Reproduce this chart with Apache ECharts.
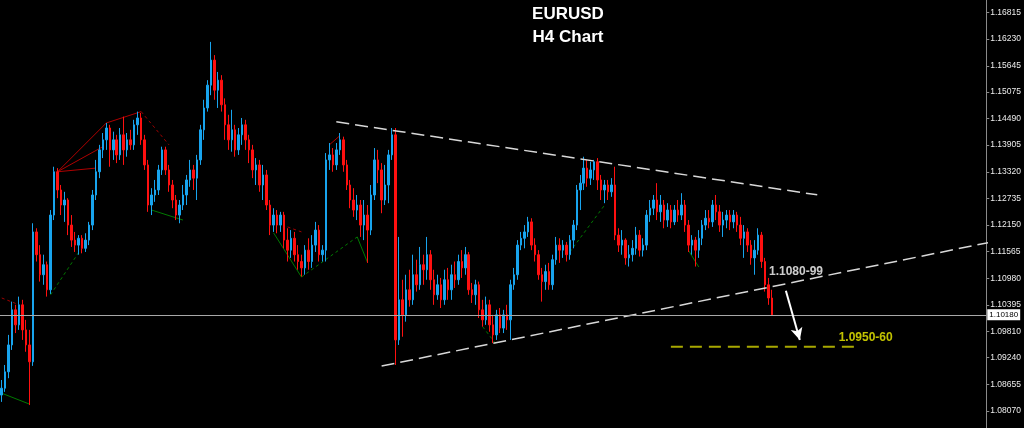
<!DOCTYPE html>
<html>
<head>
<meta charset="utf-8">
<script src="https://cdn.jsdelivr.net/npm/echarts@6/dist/echarts.min.js"></script>
<style>
html,body{margin:0;padding:0;background:#000;}
#chart{width:1024px;height:428px;}
</style>
</head>
<body>
<div id="chart"></div>
<script>
// ---- data ----
const slotCount = 283; // H4 bar slots across the plot (last bars empty: chart shift)
const categories = Array.from({length: slotCount}, (_, i) => 'bar' + i);

// [open, close, low, high]
const ohlc = [
[1.0842,1.0857,1.0827,1.0875],[1.0857,1.0893,1.0849,1.0908],[1.0893,1.0952,1.0879,1.0974],[1.0952,1.1029,1.0941,1.1047],
[1.1029,1.0996,1.0978,1.1040],[1.0996,1.1040,1.0985,1.1058],[1.1040,1.0985,1.0963,1.1051],[1.0985,1.0952,1.0937,1.1007],
[1.0952,1.0915,1.0820,1.0985],[1.0915,1.1200,1.0906,1.1219],[1.1200,1.1150,1.1135,1.1208],[1.1150,1.1106,1.1091,1.1171],
[1.1106,1.1128,1.1084,1.1150],[1.1128,1.1073,1.1058,1.1135],[1.1073,1.1237,1.1064,1.1248],[1.1237,1.1332,1.1226,1.1343],
[1.1332,1.1292,1.1274,1.1340],[1.1292,1.1259,1.1237,1.1303],[1.1259,1.1270,1.1222,1.1288],[1.1270,1.1215,1.1193,1.1274],
[1.1215,1.1182,1.1167,1.1237],[1.1182,1.1171,1.1156,1.1200],[1.1171,1.1186,1.1150,1.1193],[1.1186,1.1164,1.1153,1.1193],
[1.1164,1.1182,1.1156,1.1197],[1.1182,1.1215,1.1171,1.1222],[1.1215,1.1281,1.1204,1.1292],[1.1281,1.1332,1.1270,1.1358],
[1.1332,1.1380,1.1318,1.1391],[1.1380,1.1402,1.1362,1.1417],[1.1402,1.1428,1.1380,1.1439],[1.1428,1.1380,1.1343,1.1435],
[1.1380,1.1402,1.1358,1.1420],[1.1402,1.1369,1.1351,1.1413],[1.1369,1.1413,1.1358,1.1428],[1.1413,1.1380,1.1347,1.1453],
[1.1380,1.1402,1.1365,1.1417],[1.1402,1.1391,1.1380,1.1424],[1.1391,1.1435,1.1380,1.1446],[1.1435,1.1450,1.1413,1.1464],
[1.1450,1.1402,1.1391,1.1461],[1.1402,1.1347,1.1336,1.1413],[1.1347,1.1259,1.1244,1.1358],[1.1259,1.1281,1.1237,1.1296],
[1.1281,1.1292,1.1266,1.1314],[1.1292,1.1336,1.1281,1.1347],[1.1336,1.1380,1.1325,1.1387],[1.1380,1.1336,1.1325,1.1387],
[1.1336,1.1303,1.1288,1.1347],[1.1303,1.1270,1.1252,1.1314],[1.1270,1.1237,1.1226,1.1281],[1.1237,1.1259,1.1219,1.1270],
[1.1259,1.1281,1.1248,1.1303],[1.1281,1.1314,1.1259,1.1325],[1.1314,1.1336,1.1299,1.1358],[1.1336,1.1318,1.1292,1.1347],
[1.1318,1.1358,1.1270,1.1369],[1.1358,1.1424,1.1347,1.1435],[1.1424,1.1472,1.1402,1.1490],[1.1472,1.1522,1.1464,1.1533],
[1.1522,1.1577,1.1500,1.1617],[1.1577,1.1511,1.1490,1.1588],[1.1511,1.1533,1.1472,1.1551],[1.1533,1.1479,1.1464,1.1544],
[1.1479,1.1435,1.1402,1.1493],[1.1435,1.1402,1.1380,1.1457],[1.1402,1.1424,1.1376,1.1468],[1.1424,1.1380,1.1365,1.1435],
[1.1380,1.1413,1.1369,1.1428],[1.1413,1.1435,1.1391,1.1450],[1.1435,1.1402,1.1380,1.1446],[1.1402,1.1380,1.1351,1.1413],
[1.1380,1.1336,1.1318,1.1391],[1.1336,1.1347,1.1303,1.1362],[1.1347,1.1303,1.1288,1.1358],[1.1303,1.1325,1.1270,1.1347],
[1.1325,1.1259,1.1248,1.1336],[1.1259,1.1215,1.1193,1.1270],[1.1215,1.1237,1.1200,1.1252],[1.1237,1.1215,1.1197,1.1248],
[1.1215,1.1237,1.1200,1.1244],[1.1237,1.1182,1.1164,1.1244],[1.1182,1.1160,1.1135,1.1208],[1.1160,1.1186,1.1143,1.1204],
[1.1186,1.1150,1.1135,1.1200],[1.1150,1.1135,1.1117,1.1171],[1.1135,1.1121,1.1102,1.1150],[1.1121,1.1160,1.1106,1.1171],
[1.1160,1.1135,1.1117,1.1186],[1.1135,1.1171,1.1121,1.1193],[1.1171,1.1204,1.1156,1.1222],[1.1204,1.1150,1.1135,1.1215],
[1.1150,1.1160,1.1135,1.1171],[1.1160,1.1358,1.1135,1.1373],[1.1358,1.1369,1.1336,1.1395],[1.1369,1.1347,1.1332,1.1384],
[1.1347,1.1380,1.1336,1.1395],[1.1380,1.1402,1.1369,1.1417],[1.1402,1.1347,1.1332,1.1409],[1.1347,1.1303,1.1292,1.1358],
[1.1303,1.1270,1.1252,1.1314],[1.1270,1.1248,1.1233,1.1296],[1.1248,1.1259,1.1226,1.1281],[1.1259,1.1215,1.1189,1.1270],
[1.1215,1.1237,1.1182,1.1270],[1.1237,1.1204,1.1132,1.1259],[1.1204,1.1281,1.1193,1.1303],[1.1281,1.1358,1.1270,1.1384],
[1.1358,1.1336,1.1307,1.1380],[1.1336,1.1270,1.1241,1.1351],[1.1270,1.1303,1.1259,1.1347],[1.1303,1.1369,1.1263,1.1380],
[1.1369,1.1413,1.1358,1.1428],[1.1413,1.0963,1.0908,1.1428],[1.0963,1.1051,1.0952,1.1189],[1.1051,1.1018,1.0970,1.1095],
[1.1018,1.1073,1.1003,1.1106],[1.1073,1.1051,1.1036,1.1117],[1.1051,1.1106,1.1040,1.1150],[1.1106,1.1084,1.1069,1.1139],
[1.1084,1.1128,1.1073,1.1167],[1.1128,1.1117,1.1084,1.1150],[1.1117,1.1150,1.1095,1.1189],[1.1150,1.1095,1.1073,1.1160],
[1.1095,1.1062,1.1040,1.1117],[1.1062,1.1084,1.1051,1.1106],[1.1084,1.1051,1.1033,1.1099],[1.1051,1.1095,1.1040,1.1117],
[1.1095,1.1073,1.1051,1.1121],[1.1073,1.1106,1.1051,1.1128],[1.1106,1.1095,1.1077,1.1135],[1.1095,1.1135,1.1084,1.1150],
[1.1135,1.1121,1.1099,1.1160],[1.1121,1.1150,1.1106,1.1167],[1.1150,1.1073,1.1062,1.1156],[1.1073,1.1062,1.1044,1.1088],
[1.1062,1.1084,1.1040,1.1095],[1.1084,1.1029,1.1011,1.1091],[1.1029,1.1007,1.0992,1.1051],[1.1007,1.1040,1.0996,1.1058],
[1.1040,1.0996,1.0981,1.1051],[1.0996,1.0974,1.0956,1.1018],[1.0974,1.1018,1.0963,1.1029],[1.1018,1.0989,1.0978,1.1033],
[1.0989,1.1018,1.0978,1.1029],[1.1018,1.1007,1.0985,1.1040],[1.1007,1.1084,1.0963,1.1095],[1.1084,1.1106,1.1073,1.1121],
[1.1106,1.1171,1.1095,1.1182],[1.1171,1.1186,1.1160,1.1200],[1.1186,1.1200,1.1164,1.1215],[1.1200,1.1222,1.1189,1.1233],
[1.1222,1.1171,1.1160,1.1230],[1.1171,1.1150,1.1135,1.1186],[1.1150,1.1106,1.1095,1.1160],[1.1106,1.1091,1.1047,1.1121],
[1.1091,1.1113,1.1073,1.1128],[1.1113,1.1084,1.1073,1.1132],[1.1084,1.1139,1.1073,1.1150],[1.1139,1.1171,1.1128,1.1189],
[1.1171,1.1160,1.1132,1.1186],[1.1160,1.1171,1.1143,1.1182],[1.1171,1.1150,1.1135,1.1178],[1.1150,1.1182,1.1139,1.1193],
[1.1182,1.1215,1.1164,1.1226],[1.1215,1.1292,1.1204,1.1303],[1.1292,1.1307,1.1248,1.1325],[1.1307,1.1340,1.1292,1.1365],
[1.1340,1.1318,1.1299,1.1358],[1.1318,1.1336,1.1303,1.1354],[1.1336,1.1354,1.1314,1.1358],[1.1354,1.1314,1.1292,1.1362],
[1.1314,1.1292,1.1270,1.1325],[1.1292,1.1303,1.1263,1.1314],[1.1303,1.1288,1.1270,1.1314],[1.1288,1.1303,1.1277,1.1318],
[1.1303,1.1193,1.1182,1.1343],[1.1193,1.1171,1.1156,1.1208],[1.1171,1.1182,1.1150,1.1204],[1.1182,1.1143,1.1128,1.1186],
[1.1143,1.1150,1.1124,1.1171],[1.1150,1.1164,1.1135,1.1182],[1.1164,1.1193,1.1150,1.1211],[1.1193,1.1160,1.1146,1.1204],
[1.1160,1.1171,1.1146,1.1186],[1.1171,1.1237,1.1160,1.1248],[1.1237,1.1252,1.1222,1.1270],[1.1252,1.1270,1.1237,1.1281],
[1.1270,1.1244,1.1226,1.1307],[1.1244,1.1259,1.1222,1.1281],[1.1259,1.1226,1.1208,1.1270],[1.1226,1.1248,1.1211,1.1263],
[1.1248,1.1222,1.1208,1.1259],[1.1222,1.1248,1.1215,1.1259],[1.1248,1.1237,1.1222,1.1270],[1.1237,1.1259,1.1226,1.1285],
[1.1259,1.1215,1.1200,1.1270],[1.1215,1.1171,1.1156,1.1226],[1.1171,1.1182,1.1150,1.1193],[1.1182,1.1160,1.1124,1.1189],
[1.1160,1.1186,1.1143,1.1204],[1.1186,1.1215,1.1171,1.1226],[1.1215,1.1230,1.1204,1.1248],[1.1230,1.1222,1.1208,1.1248],
[1.1222,1.1259,1.1211,1.1270],[1.1259,1.1244,1.1226,1.1281],[1.1244,1.1215,1.1200,1.1259],[1.1215,1.1226,1.1189,1.1244],
[1.1226,1.1237,1.1208,1.1248],[1.1237,1.1222,1.1204,1.1248],[1.1222,1.1237,1.1208,1.1248],[1.1237,1.1215,1.1200,1.1244],
[1.1215,1.1186,1.1171,1.1233],[1.1186,1.1200,1.1143,1.1215],[1.1200,1.1171,1.1156,1.1208],[1.1171,1.1143,1.1128,1.1182],
[1.1143,1.1160,1.1106,1.1182],[1.1160,1.1193,1.1150,1.1208],[1.1193,1.1135,1.1121,1.1200],[1.1135,1.1084,1.1069,1.1143],
[1.1084,1.1055,1.1040,1.1099],[1.1055,1.1018,1.1016,1.1073]
];

const yTicks = [1.16815,1.16230,1.15645,1.15075,1.14490,1.13905,1.13320,1.12735,1.12150,1.11565,1.10980,1.10395,1.09810,1.09240,1.08655,1.08070];
const yMin = 1.07697, yMax = 1.17089;
const currentPrice = 1.10180;

// trend lines [barIndex, price]
const upperTrend = [[96,1.14415],[234,1.12813]];
const lowerTrend = [[109,1.09057],[290,1.11873]];
const targetLine = [[192,1.0948],[246,1.0948]];
const arrowPath = [[225,1.1071],[229,1.0963]];

// zigzag indicator segments
const zigRedSolid = [
  [[16,1.1332],[27,1.1340]], [[16,1.1332],[29,1.1387]], [[16,1.1332],[30,1.1439]],
  [[30,1.1439],[40,1.1464]], [[94,1.1391],[97,1.1411]]
];
const zigRedDashed = [
  [[40,1.1464],[48,1.1391]], [[0,1.1055],[5,1.1040]], [[82,1.1211],[86,1.1200]]
];
const zigGreenSolid = [
  [[43,1.1248],[52,1.1226]], [[0,1.0846],[8,1.0822]], [[78,1.1198],[86,1.1101]],
  [[102,1.1189],[105,1.1132]], [[197,1.1160],[200,1.1123]]
];
const zigGreenDashed = [
  [[14,1.1062],[22,1.1154]], [[86,1.1101],[102,1.1189]], [[138,1.0992],[142,1.0952]],
  [[163,1.1156],[173,1.1259]]
];

const notes = [
  {text: '1.1080-99', at: [220, 1.1112]},
  {text: '1.0950-60', at: [240, 1.0967]}
];
const titleLines = ['EURUSD', 'H4 Chart'];

// ---- chart ----
const chart = echarts.init(document.getElementById('chart'), null, {renderer: 'canvas'});

function segSeries(segs, color, dash) {
  return segs.map(s => ({
    type: 'line', data: s, showSymbol: false, silent: true, z: 1,
    lineStyle: {color: color, width: 1, type: dash ? [3, 3] : 'solid'},
    animation: false
  }));
}

const series = [];
series.push(...segSeries(zigRedSolid, '#b00000', false));
series.push(...segSeries(zigRedDashed, '#a00000', true));
series.push(...segSeries(zigGreenSolid, '#007a00', false));
series.push(...segSeries(zigGreenDashed, '#007a00', true));

series.push({
  type: 'candlestick',
  data: ohlc,
  barWidth: 2,
  z: 2,
  animation: false,
  itemStyle: {
    color: '#18a4ee', color0: '#ff1010',
    borderColor: '#18a4ee', borderColor0: '#ff1010', borderWidth: 1
  }
});

// current price line with its price tag
series.push({
  type: 'line', data: [[0, currentPrice]], showSymbol: false, silent: true, z: 1, animation: false,
  lineStyle: {opacity: 0},
  markLine: {
    silent: true, animation: false, symbol: ['none', 'none'], precision: 5,
    lineStyle: {color: '#a8a8a8', width: 1, type: 'solid'},
    label: {
      show: true, position: 'end', distance: 1,
      formatter: () => currentPrice.toFixed(5),
      backgroundColor: '#ffffff', color: '#000000',
      fontSize: 8, fontFamily: 'Liberation Sans', padding: [2, 2, 1, 2]
    },
    data: [{yAxis: currentPrice}]
  }
});

[upperTrend, lowerTrend].forEach(t => series.push({
  type: 'line', data: t, showSymbol: false, silent: true, z: 3, animation: false, clip: false,
  lineStyle: {color: '#d8d8d8', width: 1.5, type: [13, 6]}
}));

series.push({
  type: 'line', data: targetLine, showSymbol: false, silent: true, z: 3, animation: false,
  lineStyle: {color: '#a8a800', width: 2, type: [12, 7]}
});

series.push({
  type: 'line', data: [], silent: true, z: 4, animation: false,
  markLine: {
    silent: true, animation: false, symbol: ['none', 'arrow'], symbolSize: [9, 12], precision: 5,
    lineStyle: {color: '#ffffff', width: 2, type: 'solid'},
    label: {show: false},
    data: [[{coord: arrowPath[0]}, {coord: arrowPath[1]}]]
  }
});

notes.forEach((n, k) => series.push({
  type: 'scatter', data: [n.at], symbolSize: 1, silent: true, z: 5, animation: false,
  itemStyle: {color: 'rgba(0,0,0,0)'},
  label: {
    show: true, position: 'right', distance: 0, formatter: n.text,
    color: k === 0 ? '#ffffff' : '#f2f200', fontWeight: 'bold', fontSize: 12,
    fontFamily: 'Liberation Sans'
  }
}));

chart.setOption({
  backgroundColor: '#000000',
  animation: false,
  grid: {left: 0, right: 35, top: 0, bottom: 0},
  xAxis: {
    type: 'category', data: categories, boundaryGap: true, show: false
  },
  yAxis: {
    type: 'value', position: 'right', min: yMin, max: yMax, scale: true,
    axisLine: {show: true, onZero: false, lineStyle: {color: '#8a8a8a', width: 1}},
    axisTick: {show: true, customValues: yTicks, length: 3, inside: false, lineStyle: {color: '#8a8a8a'}},
    axisLabel: {
      show: true, customValues: yTicks, formatter: v => Number(v).toFixed(5),
      color: '#ececec', fontSize: 8.5, fontFamily: 'Liberation Sans', margin: 4
    },
    splitLine: {show: false}
  },
  graphic: [
    {type: 'text', x: 568, y: 14, silent: true,
     style: {text: titleLines[0], fill: '#ffffff', font: 'bold 17px "Liberation Sans"', align: 'center', verticalAlign: 'middle'}},
    {type: 'text', x: 568, y: 37, silent: true,
     style: {text: titleLines[1], fill: '#ffffff', font: 'bold 17px "Liberation Sans"', align: 'center', verticalAlign: 'middle'}}
  ],
  series: series
});
</script>
</body>
</html>
